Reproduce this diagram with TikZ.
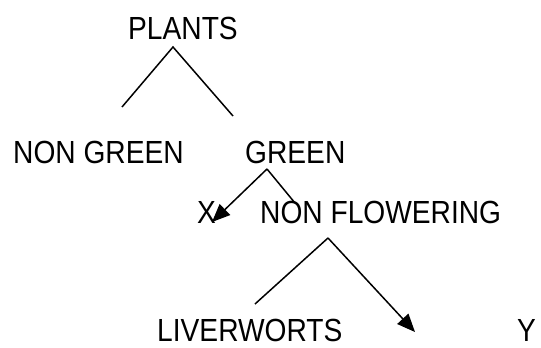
\documentclass[tikz,border=0pt]{standalone}
\usepackage{fontspec}
\setmainfont{Liberation Sans}[FakeStretch=0.88]
\usetikzlibrary{arrows.meta}

\begin{document}
\begin{tikzpicture}[x=1pt,y=-1pt,
		label/.style={anchor=base west,inner sep=0pt,font=\fontsize{32}{32}\selectfont},
		branch/.style={line width=1.5pt},
		bigarrow/.style={branch,-{Triangle[length=18pt,width=15pt]}}]
			\useasboundingbox (0, 0) rectangle (541, 348);
			%%%%% TEXTS %%%%%
			\node[label] (plants) at (128, 39) {PLANTS};
			\node[label] (nongreen) at (13, 163) {NON GREEN};
			\node[label] (green) at (245, 163) {GREEN};
			\node[label] (x) at (197, 223) {X};
			\node[label] (nonflowering) at (260, 223) {NON FLOWERING};
			\node[label] (liverworts) at (157, 341) {LIVERWORTS};
			\node[label] (y) at (517, 341) {Y};
			
			%%%%% FORKS %%%%%
			\coordinate (plantsfork) at (173, 47);
			\coordinate (nongreenend) at (122, 107);
			\coordinate (greenend) at (233, 116);
			\draw[branch] (nongreenend) -- (plantsfork) -- (greenend);
			
			\coordinate (greenfork) at (267, 169);
			\coordinate (xend) at (212, 222);
			\coordinate (nonflowend) at (295, 203);
			\draw[bigarrow] (greenfork) -- (xend);
			\draw[branch] (greenfork) -- (nonflowend);
			
			\coordinate (nonflowfork) at (328, 238);
			\coordinate (liverend) at (255, 304);
			\coordinate (yend) at (415, 332);
			\draw[branch] (nonflowfork) -- (liverend);
			\draw[bigarrow] (nonflowfork) -- (yend);
		\end{tikzpicture}
\end{document}
